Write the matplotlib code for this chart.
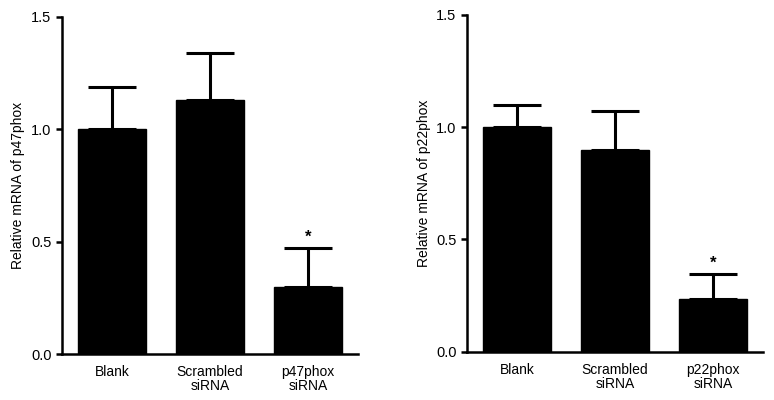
import numpy as np
import matplotlib
matplotlib.use("Agg")
from matplotlib import pyplot as plt

plt.rcParams['font.family'] = ['Liberation Sans', 'DejaVu Sans']

groups_left = ["Blank", "Scrambled\nsiRNA", "p47phox\nsiRNA"]
means_left = [1.00, 1.13, 0.30]
errs_left = [0.19, 0.21, 0.17]

groups_right = ["Blank", "Scrambled\nsiRNA", "p22phox\nsiRNA"]
means_right = [1.00, 0.90, 0.235]
errs_right = [0.10, 0.17, 0.11]

ylabels = ["Relative mRNA of p47phox", "Relative mRNA of p22phox"]
star_idx = 2

fig = plt.figure(figsize=(7.74, 4), dpi=100)
ax1 = fig.add_axes([0.080, 0.115, 0.3824, 0.8425])
ax2 = fig.add_axes([0.6034, 0.121, 0.3824, 0.842])

for ax, groups, means, errs, ylab in [(ax1, groups_left, means_left, errs_left, ylabels[0]),
                                      (ax2, groups_right, means_right, errs_right, ylabels[1])]:
    x = np.arange(len(groups))
    ax.bar(x, means, width=0.69, color='black', edgecolor='black', zorder=2)
    ax.errorbar(x, means, yerr=[np.zeros(len(errs)), errs], fmt='none', ecolor='black',
                elinewidth=2.2, capsize=17, capthick=2.2, zorder=1)
    # significance mark
    ax.text(x[star_idx], means[star_idx] + errs[star_idx] + 0.015, "*", ha='center',
            va='bottom', fontsize=12, fontweight='bold')
    ax.set_xlim(-0.51, 2.51)
    ax.set_ylim(0, 1.5)
    ax.set_yticks([0.0, 0.5, 1.0, 1.5])
    ax.set_yticklabels(["0.0", "0.5", "1.0", "1.5"])
    ax.set_xticks(x)
    ax.set_xticklabels(groups, fontsize=10, linespacing=1.0)
    ax.set_ylabel(ylab, fontsize=10)
    ax.spines['top'].set_visible(False)
    ax.spines['right'].set_visible(False)
    ax.spines['left'].set_linewidth(1.8)
    ax.spines['bottom'].set_linewidth(1.8)
    ax.tick_params(axis='y', direction='out', length=4, width=1.8, labelsize=10.5)
    ax.tick_params(axis='x', length=0, pad=8)

fig.savefig("out.png", dpi=100)
